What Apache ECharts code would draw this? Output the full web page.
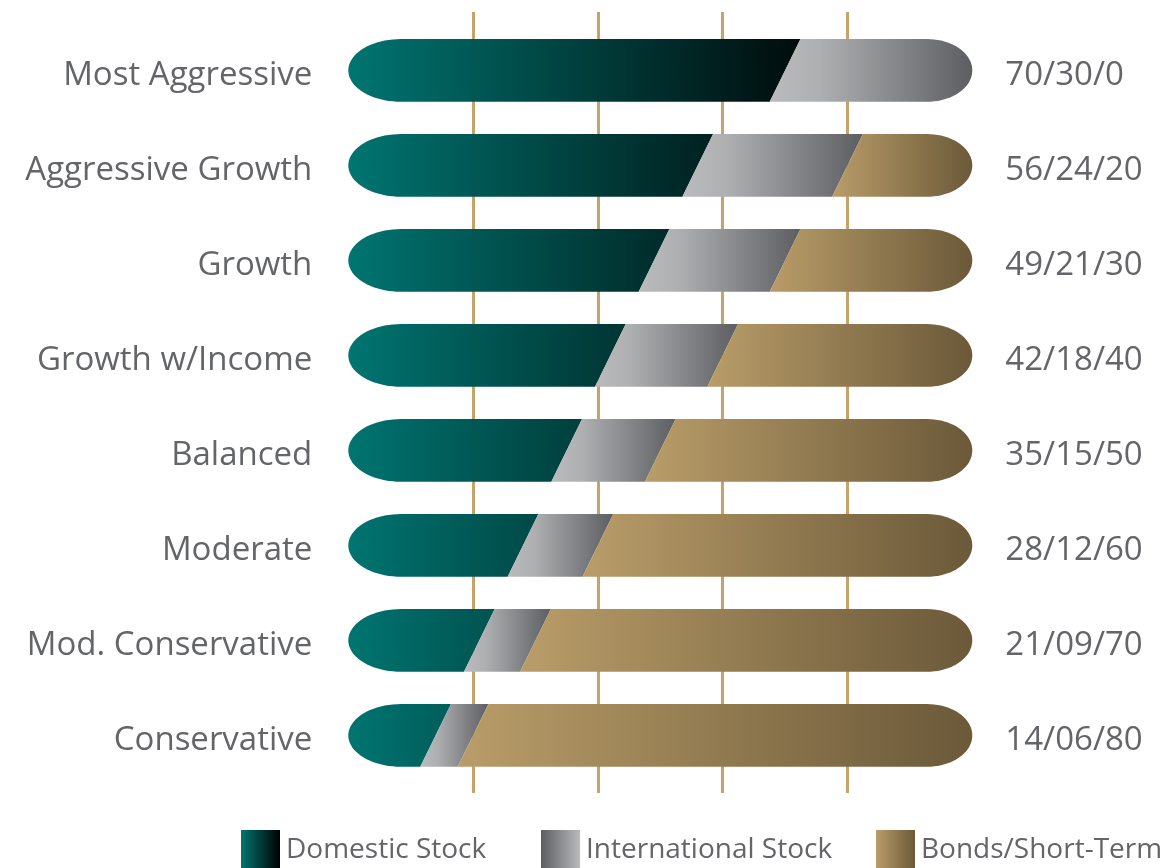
<!DOCTYPE html>
<html>
<head>
<meta charset="utf-8">
<script src="https://cdn.jsdelivr.net/npm/echarts@6/dist/echarts.min.js"></script>
<style>
html,body{margin:0;padding:0;background:#fff;}
#chart{width:1169px;height:868px;}
</style>
</head>
<body>
<div id="chart"></div>
<script>
const categories = ['Most Aggressive','Aggressive Growth','Growth','Growth w/Income','Balanced','Moderate','Mod. Conservative','Conservative'];
const domestic = [70,56,49,42,35,28,21,14];
const international = [30,24,21,18,15,12,9,6];
const bonds = [0,20,30,40,50,60,70,80];
const ratioLabels = ['70/30/0','56/24/20','49/21/30','42/18/40','35/15/50','28/12/60','21/09/70','14/06/80'];
const seriesNames = ['Domestic Stock','International Stock','Bonds/Short-Term'];
const gridTicks = [0,20,40,60,80,100];

const TEXT = '#646568';
const FONT = '"Open Sans", "Noto Sans", sans-serif';

const allSeries = [domestic, international, bonds];
const seriesData = allSeries.map(() => []);
categories.forEach((c, i) => {
  let acc = 0;
  allSeries.forEach((arr, k) => {
    seriesData[k].push([acc, acc + arr[i], i]);
    acc += arr[i];
  });
});

function makeFill(k, X0, X100) {
  if (k === 0) {
    return new echarts.graphic.LinearGradient(X0, 0, X0 + (X100 - X0) * 0.81, 0,
      [{offset: 0, color: '#007571'}, {offset: 1, color: '#000000'}], true);
  }
  if (k === 1) {
    return new echarts.graphic.LinearGradient(0, 0, 1, 0,
      [{offset: 0, color: '#babbbd'}, {offset: 0.25, color: '#aeafb1'}, {offset: 1, color: '#5d5e61'}]);
  }
  return new echarts.graphic.LinearGradient(0, 0, 1, 0,
    [{offset: 0, color: '#b99d69'}, {offset: 1, color: '#6b5939'}]);
}

function makeRender(k) {
  return function (params, api) {
    const s = api.value(0), e = api.value(1), row = api.value(2);
    if (e - s <= 0) return null;
    const a = api.coord([s, row]);
    const b = api.coord([e, row]);
    const X0 = api.coord([0, row])[0];
    const X100 = api.coord([100, row])[0];
    const band = api.size([0, 1])[1];
    const h = band * 0.66;
    const yc = a[1];
    const top = yc - h / 2, bot = yc + h / 2;
    const sl = h * 0.49;
    const rxL = h * 0.84, rxR = h * 0.72, ry = h / 2;
    const N = 40;
    const pts = [];
    if (s <= 0) {
      const cx = X0 + rxL;
      for (let j = 0; j <= N; j++) {
        const t = Math.PI / 2 + Math.PI * j / N;
        pts.push([cx + rxL * Math.cos(t), yc + ry * Math.sin(t)]);
      }
    } else {
      pts.push([a[0] - sl / 2, bot]);
      pts.push([a[0] + sl / 2, top]);
    }
    if (e >= 100) {
      const cx = X100 - rxR;
      for (let j = 0; j <= N; j++) {
        const t = -Math.PI / 2 + Math.PI * j / N;
        pts.push([cx + rxR * Math.cos(t), yc + ry * Math.sin(t)]);
      }
    } else {
      pts.push([b[0] + sl / 2, top]);
      pts.push([b[0] - sl / 2, bot]);
    }
    return {
      type: 'polygon',
      shape: {points: pts},
      style: {fill: makeFill(k, X0, X100)}
    };
  };
}

const legendColors = [
  new echarts.graphic.LinearGradient(0, 0, 1, 0, [{offset: 0, color: '#007571'}, {offset: 1, color: '#000000'}]),
  new echarts.graphic.LinearGradient(0, 0, 1, 0, [{offset: 0, color: '#5d5e61'}, {offset: 1, color: '#b9babc'}]),
  new echarts.graphic.LinearGradient(0, 0, 1, 0, [{offset: 0, color: '#b99d69'}, {offset: 1, color: '#6b5939'}])
];
const legendLeft = [241, 541, 876];

const labelRich = {t: {fontSize: 33, color: TEXT, fontFamily: FONT, padding: [10, 0, 0, 0]}};

const chart = echarts.init(document.getElementById('chart'));
chart.setOption({
  animation: false,
  backgroundColor: '#ffffff',
  textStyle: {fontFamily: FONT},
  legend: seriesNames.map((n, k) => ({
    data: [{name: n, icon: 'rect', itemStyle: {color: legendColors[k]}}],
    left: legendLeft[k],
    top: 830,
    itemWidth: 39,
    itemHeight: 40,
    padding: 0,
    itemGap: 0,
    selectedMode: false,
    textStyle: {fontSize: 28, color: TEXT, fontFamily: FONT, padding: [4, 0, 0, 1]}
  })),
  grid: [
    {left: 348.3, width: 624, top: 22.9, height: 760},
    {left: 348.3, width: 624, top: 12, height: 781}
  ],
  xAxis: [
    {gridIndex: 0, type: 'value', min: 0, max: 100, interval: 20, show: false},
    {gridIndex: 1, type: 'value', min: gridTicks[0], max: gridTicks[gridTicks.length - 1], interval: 20,
      axisLine: {show: false}, axisTick: {show: false}, axisLabel: {show: false},
      splitLine: {show: true, showMinLine: false, showMaxLine: false, lineStyle: {color: '#c6a36b', width: 3}}}
  ],
  yAxis: [
    {gridIndex: 0, type: 'category', data: categories, inverse: true, position: 'left',
      axisLine: {show: false}, axisTick: {show: false}, splitLine: {show: false},
      axisLabel: {margin: 36, fontSize: 33, color: TEXT, fontFamily: FONT,
        formatter: v => '{t|' + v + '}', rich: labelRich}},
    {gridIndex: 0, type: 'category', data: ratioLabels, inverse: true, position: 'right',
      axisLine: {show: false}, axisTick: {show: false}, splitLine: {show: false},
      axisLabel: {margin: 33, fontSize: 33, color: TEXT, fontFamily: FONT, align: 'left',
        formatter: v => '{t|' + v + '}', rich: labelRich}},
    {gridIndex: 1, type: 'value', show: false, splitLine: {show: false}}
  ],
  series: seriesNames.map((n, k) => ({
    name: n,
    type: 'custom',
    xAxisIndex: 0,
    yAxisIndex: 0,
    renderItem: makeRender(k),
    encode: {x: [0, 1], y: 2},
    itemStyle: {color: legendColors[k]},
    data: seriesData[k],
    z: 5
  }))
});
</script>
</body>
</html>
